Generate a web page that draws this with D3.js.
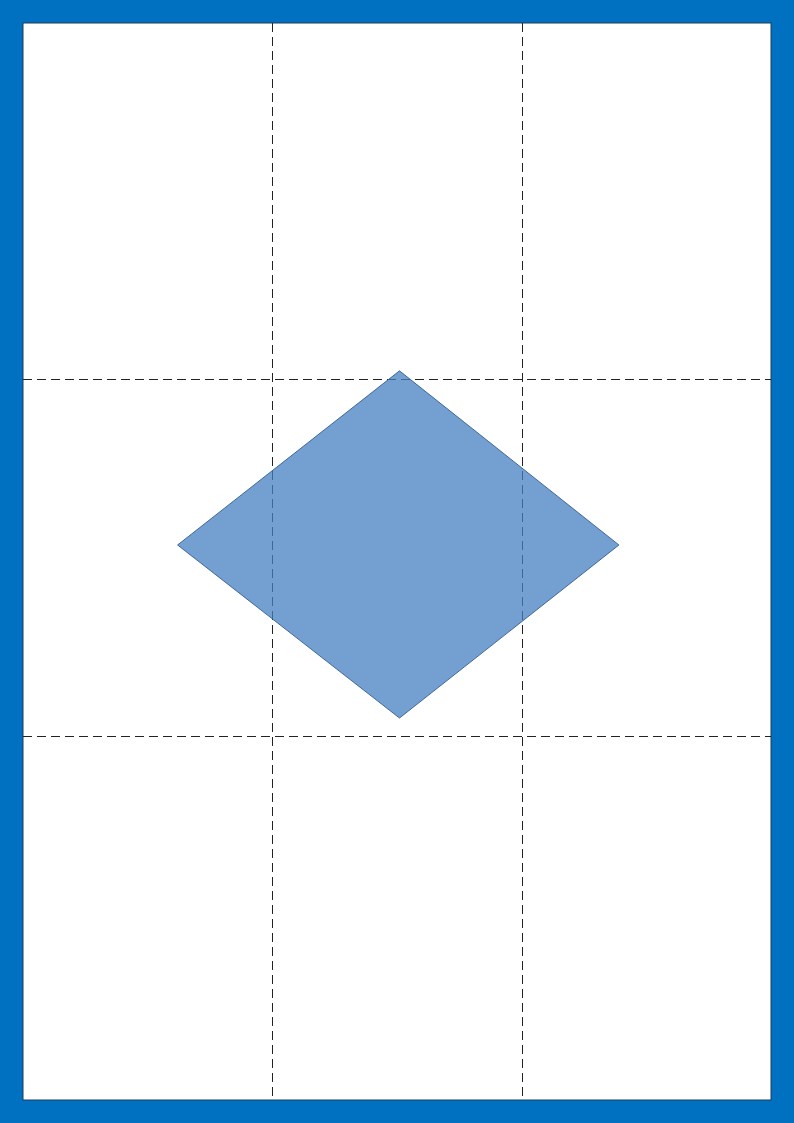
<!DOCTYPE html>
<html><head><meta charset="utf-8">
<script src="https://cdn.jsdelivr.net/npm/d3@7.9.0/dist/d3.min.js"></script>
<style>body{margin:0;}svg{display:block;}</style>
</head><body>
<svg width="794" height="1123"></svg>
<script>
// page in data units (0..3 across, 0..3 down)
const gridX = [1, 2];
const gridY = [0.993, 1.987];
const diamond = [[1.51, 0.969], [2.39, 1.454], [1.51, 1.936], [0.62, 1.454]];

const svg = d3.select("svg");
svg.append("rect").attr("width", 794).attr("height", 1123).attr("fill", "#0070c0");

let x = d3.scaleLinear().domain([0, 3]).range([23, 771]);
let y = d3.scaleLinear().domain([0, 3]).range([23, 1100]);

svg.append("rect").attr("x", x(0)).attr("y", y(0))
  .attr("width", x(3) - x(0)).attr("height", y(3) - y(0))
  .attr("fill", "#fff").attr("stroke", "#1f3a5a").attr("stroke-width", 1);

gridX.forEach((g) => {
  svg.append("line").attr("x1", Math.round(x(g)) + 0.5).attr("x2", Math.round(x(g)) + 0.5)
    .attr("y1", y(0)).attr("y2", y(3))
    .attr("stroke", "#222").attr("stroke-dasharray", "9,5");
});
gridY.forEach((g) => {
  svg.append("line").attr("y1", Math.round(y(g)) + 0.5).attr("y2", Math.round(y(g)) + 0.5)
    .attr("x1", x(0)).attr("x2", x(3))
    .attr("stroke", "#222").attr("stroke-dasharray", "9,5");
});

svg.append("path")
  .attr("d", d3.line().x((d) => x(d[0])).y((d) => y(d[1]))(diamond) + "Z")
  .attr("fill", "rgba(69,127,193,0.75)").attr("stroke", "#41689c").attr("stroke-width", 1);
</script>
</body></html>
